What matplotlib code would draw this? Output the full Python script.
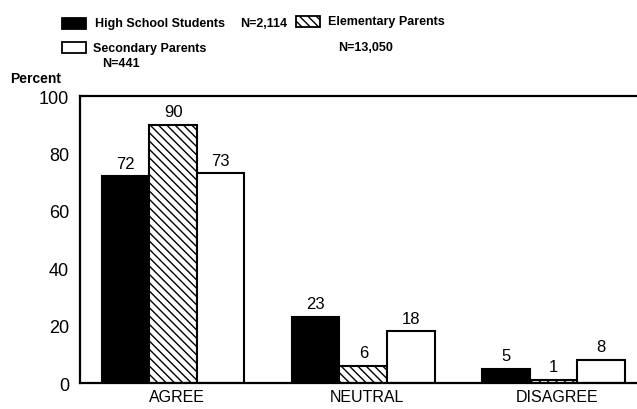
import matplotlib

matplotlib.use("Agg")
import matplotlib.pyplot as plt
import numpy as np
from matplotlib.patches import Rectangle

categories = ["AGREE", "NEUTRAL", "DISAGREE"]
high_school = [72, 23, 5]
elementary = [90, 6, 1]
secondary = [73, 18, 8]
y_ticks = [0, 20, 40, 60, 80, 100]

plt.rcParams["font.family"] = ["Liberation Sans", "DejaVu Sans"]
plt.rcParams["hatch.linewidth"] = 1.0

fig = plt.figure(figsize=(6.37, 4.10), dpi=100)
ax = fig.add_axes([0.1256, 0.0634, 0.8744, 0.70])

x = np.arange(len(categories))
w = 0.25
series = [
    (high_school, dict(color="black", edgecolor="black")),
    (elementary, dict(color="white", edgecolor="black", hatch="\\\\\\\\")),
    (secondary, dict(color="white", edgecolor="black")),
]
for i, (vals, style) in enumerate(series):
    pos = x + (i - 1) * w
    ax.bar(pos, vals, width=w, linewidth=1.5, **style)
    for p, v in zip(pos, vals):
        ax.text(p, v + 2, str(v), ha="center", va="bottom", fontsize=12)

ax.set_xlim(-0.49, 2.44)
ax.set_ylim(0, 100)
ax.set_yticks(y_ticks)
ax.set_xticks(x + 0.02)
ax.set_xticklabels(categories, fontsize=11.5)
ax.tick_params(axis="y", length=0, labelsize=13, pad=8)
ax.tick_params(axis="x", length=0, pad=4)
ax.spines["right"].set_visible(False)
for s in ["left", "top", "bottom"]:
    ax.spines[s].set_linewidth(1.6)

# legend drawn by hand, as in the original
def box(x0, y0, **kw):
    fig.add_artist(Rectangle((x0 / 637, 1 - y0 / 410), 24 / 637, 11 / 410,
                             transform=fig.transFigure, linewidth=1.3,
                             edgecolor="black", **kw))

box(62, 30, facecolor="black")
box(296, 28, facecolor="white", hatch="\\\\\\\\")
box(62, 54, facecolor="white")

def label(x0, y0, s, size=9):
    fig.text(x0 / 637, 1 - y0 / 410, s, fontsize=size, fontweight="bold",
             ha="left", va="center")

label(95, 24, "High School Students")
label(240, 24, "N=2,114")
label(328, 22, "Elementary Parents")
label(338, 48, "N=13,050")
label(93, 49, "Secondary Parents")
label(102, 64, "N=441")
label(10, 79, "Percent", size=10)

fig.savefig("out.png", dpi=100)
